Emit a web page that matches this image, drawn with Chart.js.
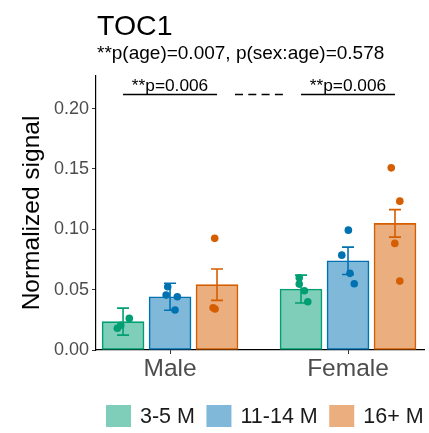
<!DOCTYPE html>
<html lang="en">
<head>
<meta charset="UTF-8"/>
<title>TOC1</title>
<script src="https://cdn.jsdelivr.net/npm/chart.js@4.4.1/dist/chart.umd.min.js"></script>
<style>
  html, body { margin: 0; padding: 0; background: #fff; }
  #wrap { width: 429px; height: 433px; }
</style>
</head>
<body>
<div id="wrap"><canvas id="chart"></canvas></div>
<script>
// data
const sexes = ['Male', 'Female'];
const ageGroups = ['3-5 M', '11-14 M', '16+ M'];
const yTicks = [0, 0.05, 0.10, 0.15, 0.20];

const mean35 = [0.0235, 0.0505];
const mean1114 = [0.0441, 0.0739];
const mean16 = [0.0541, 0.1049];
const se35 = [0.0112, 0.0115];
const se1114 = [0.0112, 0.0113];
const se16 = [0.0130, 0.0114];

// single animals per group, [male, female]; jitter is a fraction of one category
const dots35 = [[0.0180, 0.0205, 0.0262], [0.0599, 0.0546, 0.0491, 0.0400]];
const jit35 = [[-0.032, -0.013, 0.035], [-0.010, -0.010, 0.019, 0.038]];
const dots1114 = [[0.0524, 0.0455, 0.0441, 0.0331], [0.0993, 0.0786, 0.0635, 0.0549]];
const jit1114 = [[-0.013, -0.022, 0.041, 0.028], [0.002, -0.035, 0.011, 0.035]];
const dots16 = [[0.0925, 0.0350, 0.0340], [0.1509, 0.1233, 0.0883, 0.0571]];
const jit16 = [[-0.013, -0.022, -0.011], [-0.021, 0.027, -0.001, 0.027]];

const title = 'TOC1';
const subtitle = '**p(age)=0.007, p(sex:age)=0.578';
const pairLabels = ['**p=0.006', '**p=0.006'];

const fills = ['#7fceb9', '#7fb8d8', '#eaae7f'];
const strokes = ['#009E73', '#0072B2', '#D55E00'];
const dodge = [-0.264, 0, 0.264];
const means = [mean35, mean1114, mean16];
const ses = [se35, se1114, se16];
const dots = [dots35, dots1114, dots16];
const jits = [jit35, jit1114, jit16];

const FONT = "'Liberation Sans', Arial, Helvetica, sans-serif";
Chart.defaults.font.family = FONT;

const datasets = [];
ageGroups.forEach((name, g) => {
  datasets.push({
    type: 'bar',
    label: name,
    data: sexes.map((s, i) => ({ x: i + 1 + dodge[g], y: means[g][i] })),
    backgroundColor: fills[g],
    borderColor: strokes[g],
    borderWidth: 1.6,
    borderSkipped: false,
    barThickness: 42,
    grouped: false,
    order: 2
  });
});
ageGroups.forEach((name, g) => {
  const pts = [];
  sexes.forEach((s, i) => {
    dots[g][i].forEach((v, k) => pts.push({ x: i + 1 + dodge[g] + jits[g][i][k], y: v }));
  });
  datasets.push({
    type: 'scatter',
    label: name + ' dots',
    data: pts,
    backgroundColor: strokes[g],
    borderWidth: 0,
    pointRadius: 3.8,
    order: 0
  });
});

// error bars drawn right after each bar dataset
const errorBars = {
  id: 'errorBars',
  afterDatasetDraw(chart, args) {
    const g = args.index;
    if (g > 2) return;
    const { ctx, scales: { x, y } } = chart;
    ctx.save();
    ctx.strokeStyle = strokes[g];
    ctx.lineWidth = 1.6;
    sexes.forEach((s, i) => {
      const px = x.getPixelForValue(i + 1 + dodge[g]);
      const top = y.getPixelForValue(means[g][i] + ses[g][i]);
      const bot = y.getPixelForValue(means[g][i] - ses[g][i]);
      ctx.beginPath();
      ctx.moveTo(px, top); ctx.lineTo(px, bot);
      ctx.moveTo(px - 6, top); ctx.lineTo(px + 6, top);
      ctx.moveTo(px - 6, bot); ctx.lineTo(px + 6, bot);
      ctx.stroke();
    });
    ctx.restore();
  }
};

// title, subtitle, pairwise brackets and the legend
const annotations = {
  id: 'annotations',
  afterDraw(chart) {
    const { ctx, chartArea, scales: { x, y } } = chart;
    ctx.save();
    ctx.fillStyle = '#000';
    ctx.textAlign = 'left';
    ctx.textBaseline = 'alphabetic';
    ctx.font = '28.5px ' + FONT;
    ctx.fillText(title, chartArea.left + 1, 35);
    ctx.font = '19px ' + FONT;
    ctx.fillText(subtitle, chartArea.left + 1, 59);

    const by = Math.round(y.getPixelForValue(0.2117)) + 0.5;
    ctx.strokeStyle = '#000';
    ctx.lineWidth = 1.3;
    ctx.font = '17.3px ' + FONT;
    ctx.textAlign = 'center';
    sexes.forEach((s, i) => {
      const x0 = x.getPixelForValue(i + 1 + dodge[0]);
      const x1 = x.getPixelForValue(i + 1 + dodge[2]);
      ctx.beginPath();
      ctx.moveTo(x0, by); ctx.lineTo(x1, by);
      ctx.stroke();
      ctx.fillText(pairLabels[i], (x0 + x1) / 2, by - 4);
    });
    ctx.setLineDash([8, 5.3]);
    ctx.beginPath();
    ctx.moveTo(x.getPixelForValue(1.365), by);
    ctx.lineTo(x.getPixelForValue(1.635), by);
    ctx.stroke();
    ctx.setLineDash([]);

    // legend
    ctx.font = '21.5px ' + FONT;
    ctx.textAlign = 'left';
    ctx.textBaseline = 'middle';
    const ly = 416;
    let lx = chartArea.left + 10;
    ageGroups.forEach((name, i) => {
      ctx.fillStyle = fills[i];
      ctx.fillRect(lx, ly - 11, 25, 22);
      ctx.fillStyle = '#1a1a1a';
      ctx.fillText(name, lx + 34, ly + 1);
      lx += 34 + ctx.measureText(name).width + 11.5;
    });
    ctx.restore();
  }
};

new Chart(document.getElementById('chart'), {
  type: 'bar',
  data: { datasets },
  options: {
    responsive: true,
    maintainAspectRatio: false,
    animation: false,
    layout: { padding: { left: 0, right: 5, top: 76, bottom: 41 } },
    plugins: {
      tooltip: { enabled: false },
      legend: { display: false }
    },
    scales: {
      x: {
        type: 'linear',
        offset: false,
        min: 0.584,
        max: 2.427,
        afterBuildTicks: s => { s.ticks = sexes.map((n, i) => ({ value: i + 1 })); },
        afterFit: s => { s.height = 42; },
        ticks: {
          callback: v => sexes[v - 1],
          font: { size: 24.5 },
          color: '#4d4d4d',
          padding: 1,
          autoSkip: false,
          maxRotation: 0
        },
        grid: { offset: false, drawOnChartArea: false, drawTicks: true, tickLength: 4, tickColor: '#333' },
        border: { display: true, color: '#000', width: 1.2 }
      },
      y: {
        min: 0,
        max: 0.227,
        afterBuildTicks: s => { s.ticks = yTicks.map(v => ({ value: v })); },
        afterFit: s => { s.width = 96; },
        ticks: {
          callback: v => v.toFixed(2),
          font: { size: 18 },
          color: '#4d4d4d',
          padding: 3
        },
        grid: { drawOnChartArea: false, drawTicks: true, tickLength: 4, tickColor: '#333' },
        border: { display: true, color: '#000', width: 1.2 },
        title: {
          display: true,
          text: 'Normalized signal',
          color: '#000',
          font: { size: 24.5 },
          padding: { top: 18, bottom: 0 }
        }
      }
    }
  },
  plugins: [errorBars, annotations]
});
</script>
</body>
</html>
